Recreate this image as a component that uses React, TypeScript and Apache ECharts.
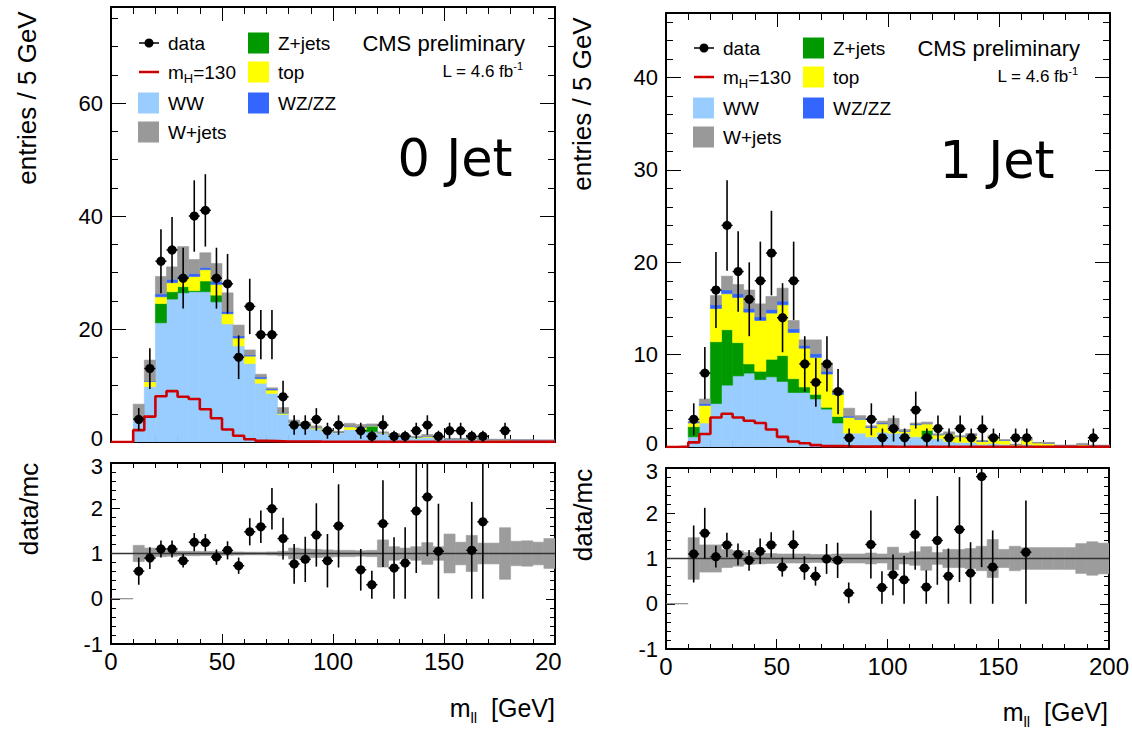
import React, { useEffect, useRef } from 'react';
import * as echarts from 'echarts';

// ---------------- data ----------------
const BIN = 5;
const NBINS = 40;
const X_MAX = 200;

// 0-jet channel (entries per 5 GeV bin, 0..200 GeV)
const ww0 = [0,0,3.9,9.8,21.1,25.3,26.4,26.6,26.6,24.8,20.9,17.0,13.9,10.4,8.6,4.9,3.4,2.9,2.3,1.8,1.6,2.2,2.2,1.8,1.5,1.2,1.0,0.7,0.8,0.65,0.45,0.4,0.5,0.4,0.35,0.3,0.3,0.3,0.25,0.25];
const zjets0 = [0,0,0,0,3.4,1.3,1.1,0.2,1.9,1.2,0,0,0,0,0,0,0,0,0,0,0,0,0,1.0,0,0,0,0,0,0,0,0,0,0,0,0,0,0,0,0];
const top0 = [0,0,0.2,0.9,1.2,1.6,1.5,2.5,2.0,1.9,1.8,1.4,1.3,0.8,0.6,0.2,0.1,0.2,0.2,0.2,0.1,0.5,0.4,0.05,0.1,0.1,0.1,0.15,0.15,0.1,0.05,0.1,0.1,0.05,0.05,0.08,0.03,0.03,0.03,0.03];
const wzzz0 = [0,0,0.1,0.1,0.5,0.6,0.4,0.5,0.4,0.5,0.4,0.4,0.2,0.3,0.2,0.1,0.1,0.05,0.05,0.05,0.05,0.1,0.1,0.05,0.05,0.05,0.05,0.05,0.05,0.05,0.05,0.05,0.05,0.05,0.02,0.02,0.02,0.02,0.02,0.02];
const wjets0 = [0,0,2.5,3.7,3.1,2.2,5.2,2.5,2.6,3.2,3.3,1.9,0.9,0.5,0.2,0.9,0.3,0.3,0.29,0.33,0.15,0.5,0.4,0.3,0.15,0.12,0.11,0.13,0.33,0.15,0.05,0.05,0.28,0.09,0.08,0.1,0.05,0.05,0.05,0.05];
const higgs0 = [0,0,2.1,4.5,8.1,9.0,8.0,7.6,5.8,4.2,2.2,1.1,0.5,0.2,0.15,0.1,0.1,0.08,0.06,0.05,0.05,0.04,0.04,0.03,0.03,0.03,0.02,0.02,0.02,0.02,0.02,0.02,0.02,0.02,0.02,0.02,0.02,0.02,0.02,0.02];
const data0 = [0,0,4,13,32,34,29,40,41,29,28,15,24,19,19,8,3,3,4,2,3,0,2,1,3,1,1,2,3,1,2,2,1,1,0,2,0,0,0,0];
const dataErr0 = [0,0,2,3.61,5.66,5.83,5.39,6.32,6.4,5.39,5.29,3.87,4.9,4.36,4.36,2.83,1.73,1.73,2,1.41,1.73,0,1.41,1,1.73,1,1,1.41,1.73,1,1.41,1.41,1,1,0,1.41,0,0,0,0];
const ratio0 = [null,null,0.61,0.90,1.10,1.10,0.84,1.25,1.24,0.92,1.07,0.73,1.48,1.59,1.99,1.33,0.77,0.87,1.41,0.84,1.61,null,0.64,0.31,1.66,0.68,0.79,1.94,2.25,1.05,null,null,1.07,1.70,null,null,null,null,null,null];
const ratioErr0 = [null,null,0.30,0.24,0.19,0.19,0.15,0.20,0.19,0.17,0.20,0.18,0.30,0.36,0.46,0.46,0.44,0.50,0.70,0.59,0.92,null,0.46,0.31,0.96,0.68,0.79,1.37,1.31,1.05,null,null,1.07,1.70,null,null,null,null,null,null];
const band0 = [0,0,0.18,0.12,0.07,0.06,0.05,0.05,0.045,0.045,0.04,0.035,0.03,0.03,0.035,0.05,0.12,0.1,0.09,0.08,0.07,0.07,0.06,0.07,0.3,0.15,0.12,0.15,0.24,0.15,0.43,0.25,0.4,0.23,0.23,0.57,0.27,0.28,0.25,0.33];

// 1-jet channel
const ww1 = [0,0,1.1,2.6,4.7,6.7,7.7,8.0,7.3,7.6,7.1,5.9,5.9,5.2,4.1,2.6,1.5,1.5,1.1,1.6,1.5,1.5,1.1,0.9,0.9,0.6,0.5,0.5,0.3,0.4,0.3,0.1,0.3,0.15,0.15,0.05,0.05,0.1,0.05,0.05];
const zjets1 = [0,0,1.1,0,6.7,6.0,3.6,1.0,0.9,1.9,2.8,1.5,0.6,0.5,0.2,0.7,0,0,0,0,0,0,0,0.9,0,0,0,0,0,0,0,0,0,0,0,0,0,0,0,0];
const top1 = [0,0,0.4,1.9,3.6,3.9,4.9,5.6,5.5,5.0,5.5,5.0,4.2,4.0,3.6,2.4,1.7,1.5,1.0,0.9,0.3,0.2,1.3,0.7,0.4,0.8,0.6,0.75,0.3,0.6,0.4,0.15,0.45,0.3,0.25,0.1,0.1,0.15,0.1,0.1];
const wzzz1 = [0,0,0.1,0.2,0.4,0.4,0.4,0.4,0.4,0.4,0.4,0.4,0.3,0.4,0.3,0.2,0.15,0.1,0.1,0.1,0.05,0.05,0.1,0.05,0.05,0.05,0.05,0.05,0.05,0.05,0.05,0.02,0.05,0.02,0.02,0.02,0.02,0.02,0.02,0.02];
const wjets1 = [0,0,0.1,0.5,1.0,1.5,1.0,2.0,1.4,1.4,1.4,0.9,0.6,1.5,0.9,0.3,0.85,0.3,0.1,0.2,1.25,0.15,0.1,0.15,0.08,0.19,0.07,0.17,0.06,0.18,0.05,0.03,0.08,0.03,0.08,0.03,0.03,0.13,0.03,0.03];
const higgs1 = [0,0.05,0.5,1.4,3.2,3.6,3.2,2.85,2.6,1.9,1.1,0.6,0.4,0.2,0.1,0.1,0.05,0.05,0.04,0.04,0.03,0.03,0.03,0.02,0.02,0.02,0.02,0.02,0.02,0.02,0.02,0.02,0.02,0.02,0.02,0.02,0.02,0.02,0.02,0.02];
const data1 = [0,0,3,8,17,24,19,16,18,21,14,18,9,7,9,6,1,0,3,1,2,1,4,1,2,1,2,1,2,1,0,1,1,0,0,0,0,0,1,0];
const dataErr1 = [0,0,1.73,2.83,4.12,4.9,4.36,4,4.24,4.58,3.74,4.24,3,2.65,3,2.45,1,0,1.73,1,1.41,1,2,1,1.41,1,1.41,1,1.41,1,0,1,1,0,0,0,0,0,1,0];
const ratio1 = [null,null,1.10,1.56,1.04,1.30,1.09,0.96,1.16,1.30,0.81,1.31,0.79,0.61,0.99,0.96,0.24,null,1.31,0.36,0.64,0.53,1.53,0.37,1.40,0.61,1.64,0.68,2.81,0.81,null,null,1.14,null,null,null,null,null,null,null];
const ratioErr1 = [null,null,0.63,0.56,0.24,0.27,0.24,0.23,0.28,0.28,0.21,0.31,0.26,0.21,0.33,0.39,0.23,null,0.75,0.36,0.45,0.53,0.78,0.37,0.98,0.61,1.16,0.68,2.0,0.81,null,null,1.14,null,null,null,null,null,null,null];
const band1 = [0,0,0.46,0.3,0.3,0.2,0.17,0.13,0.12,0.11,0.1,0.1,0.1,0.09,0.09,0.1,0.1,0.1,0.12,0.1,0.25,0.12,0.15,0.26,0.13,0.2,0.2,0.22,0.27,0.42,0.2,0.27,0.24,0.24,0.24,0.24,0.24,0.33,0.37,0.34];

const xTicks = { major: 50, minorSplit: 5 };
const mainY0 = { max: 77, major: 20, minor: 5 };
const mainY1 = { max: 47, major: 10, minor: 2 };
const ratioY = { min: -1, max: 3, major: 1, minorSplit: 5 };

const COMPONENTS = [
  { name: 'WW', color: '#99ccff' },
  { name: 'Z+jets', color: '#009900' },
  { name: 'top', color: '#ffff00' },
  { name: 'WZ/ZZ', color: '#3366ff' },
  { name: 'W+jets', color: '#999999' },
];
const HIGGS_COLOR = '#cc0000';
const FONT = '"Liberation Sans", Arial, Helvetica, sans-serif';

// ---------------- helpers ----------------
function rectSeries(name: string, color: string, xi: number, yi: number, rects: number[][], z = 2) {
  return {
    type: 'custom',
    name,
    xAxisIndex: xi,
    yAxisIndex: yi,
    clip: true,
    silent: true,
    z,
    data: rects,
    encode: { x: [0, 1], y: [2, 3] },
    renderItem: (_p: any, api: any) => {
      const a = api.coord([api.value(0), api.value(3)]);
      const b = api.coord([api.value(1), api.value(2)]);
      return {
        type: 'rect',
        shape: { x: a[0], y: a[1], width: b[0] - a[0], height: b[1] - a[1] },
        style: { fill: color, stroke: color, lineWidth: 0.6 },
      };
    },
  };
}

function pointSeries(name: string, xi: number, yi: number, pts: number[][], r: number) {
  return {
    type: 'custom',
    name,
    xAxisIndex: xi,
    yAxisIndex: yi,
    clip: true,
    silent: true,
    z: 5,
    data: pts,
    encode: { x: 0, y: 1 },
    renderItem: (_p: any, api: any) => {
      const x = api.value(0), y = api.value(1), e = api.value(2);
      const c = api.coord([x, y]);
      const t = api.coord([x, y + e]);
      const b = api.coord([x, y - e]);
      const l = api.coord([x - BIN / 2, y]);
      const rr = api.coord([x + BIN / 2, y]);
      return {
        type: 'group',
        children: [
          { type: 'line', shape: { x1: c[0], y1: t[1], x2: c[0], y2: b[1] }, style: { stroke: '#000', lineWidth: 1.6 } },
          { type: 'line', shape: { x1: l[0], y1: c[1], x2: rr[0], y2: c[1] }, style: { stroke: '#000', lineWidth: 1.4 } },
          { type: 'circle', shape: { cx: c[0], cy: c[1], r }, style: { fill: '#000' } },
        ],
      };
    },
  };
}

function buildOption() {
  const grids: any[] = [
    { left: 111, top: 7, width: 444, height: 435 },
    { left: 111, top: 463, width: 444, height: 181 },
    { left: 666, top: 13, width: 444, height: 434 },
    { left: 666, top: 468, width: 444, height: 181 },
  ];
  const xAxes: any[] = [];
  const yAxes: any[] = [];
  const series: any[] = [];
  const graphic: any[] = [];

  const lineStyle = { color: '#000', width: 2 };
  const tickStyle = { color: '#000', width: 1 };
  const xLabelStyle = { fontSize: 24, fontFamily: FONT, color: '#000', lineHeight: 17 };
  const yLabelStyle = { fontSize: 22, fontFamily: FONT, color: '#000', lineHeight: 16 };
  const yRich = {
    lo: { fontSize: 22, fontFamily: FONT, color: '#000', lineHeight: 16, padding: [0, 0, 7, 0] },
    hi: { fontSize: 22, fontFamily: FONT, color: '#000', lineHeight: 16, padding: [7, 0, 0, 0] },
  };

  function addX(g: number, showLabels: boolean, majorLen: number, minorLen: number) {
    const idx = xAxes.length;
    for (const pos of ['bottom', 'top']) {
      xAxes.push({
        gridIndex: g, type: 'value', position: pos, min: 0, max: X_MAX, interval: xTicks.major,
        axisLine: { show: true, onZero: false, lineStyle },
        axisTick: { show: true, inside: true, length: majorLen, lineStyle: tickStyle },
        minorTick: { show: true, splitNumber: xTicks.minorSplit, length: minorLen, lineStyle: tickStyle },
        axisLabel: { show: showLabels && pos === 'bottom', margin: 9, ...xLabelStyle },
        splitLine: { show: false }, minorSplitLine: { show: false },
      });
    }
    return idx;
  }
  function addMainY(g: number, cfg: { max: number; major: number; minor: number }) {
    const idx = yAxes.length;
    for (const pos of ['left', 'right']) {
      yAxes.push({
        gridIndex: g, type: 'value', position: pos, min: 0, max: cfg.max, interval: cfg.major,
        axisLine: { show: true, onZero: false, lineStyle },
        axisTick: { show: true, inside: true, length: 15, lineStyle: tickStyle },
        axisLabel: {
          show: pos === 'left', showMaxLabel: false, margin: 8, ...yLabelStyle,
          formatter: (v: number) => (v === 0 ? '{lo|0}' : String(v)), rich: yRich,
        },
        splitLine: { show: false },
      });
      yAxes.push({
        gridIndex: g, type: 'value', position: pos, min: 0, max: cfg.max, interval: cfg.minor,
        axisLine: { show: false, onZero: false },
        axisTick: { show: true, inside: true, length: 7, lineStyle: tickStyle },
        axisLabel: { show: false },
        splitLine: { show: false },
      });
    }
    return idx;
  }
  function addRatioY(g: number) {
    const idx = yAxes.length;
    for (const pos of ['left', 'right']) {
      yAxes.push({
        gridIndex: g, type: 'value', position: pos, min: ratioY.min, max: ratioY.max, interval: ratioY.major,
        axisLine: { show: true, onZero: false, lineStyle },
        axisTick: { show: true, inside: true, length: 9, lineStyle: tickStyle },
        minorTick: { show: true, splitNumber: ratioY.minorSplit, length: 5, lineStyle: tickStyle },
        axisLabel: {
          show: pos === 'left', margin: 8, ...yLabelStyle,
          formatter: (v: number) => (v === ratioY.max ? '{hi|' + v + '}' : String(v)), rich: yRich,
        },
        splitLine: { show: false }, minorSplitLine: { show: false },
      });
    }
    return idx;
  }

  const panels = [
    { comps: [ww0, zjets0, top0, wzzz0, wjets0], higgs: higgs0, data: data0, dataErr: dataErr0, ratio: ratio0, ratioErr: ratioErr0, band: band0, yCfg: mainY0, gMain: 0, gRatio: 1 },
    { comps: [ww1, zjets1, top1, wzzz1, wjets1], higgs: higgs1, data: data1, dataErr: dataErr1, ratio: ratio1, ratioErr: ratioErr1, band: band1, yCfg: mainY1, gMain: 2, gRatio: 3 },
  ];

  panels.forEach((p) => {
    const xm = addX(p.gMain, false, 14, 7);
    const ym = addMainY(p.gMain, p.yCfg);
    const xr = addX(p.gRatio, true, 10, 5);
    const yr = addRatioY(p.gRatio);

    // stacked backgrounds
    const rects: number[][][] = p.comps.map(() => []);
    for (let k = 0; k < NBINS; k++) {
      let base = 0;
      p.comps.forEach((c, i) => {
        const v = c[k];
        if (v > 0) rects[i].push([k * BIN, (k + 1) * BIN, base, base + v]);
        base += v;
      });
    }
    COMPONENTS.forEach((c, i) => series.push(rectSeries(c.name, c.color, xm, ym, rects[i])));

    // signal histogram outline
    const hline: number[][] = p.higgs.map((v, k) => [k * BIN, v]);
    hline.push([X_MAX, p.higgs[NBINS - 1]]);
    series.push({
      type: 'line', name: 'mH=130', xAxisIndex: xm, yAxisIndex: ym, step: 'end', data: hline,
      symbol: 'none', clip: true, silent: true, z: 4,
      lineStyle: { color: HIGGS_COLOR, width: 2.6 },
    });

    // data points
    const pts: number[][] = [];
    p.data.forEach((v, k) => { if (v > 0) pts.push([(k + 0.5) * BIN, v, p.dataErr[k]]); });
    series.push(pointSeries('data', xm, ym, pts, 4.6));

    // ratio band
    const bandRects: number[][] = [];
    p.band.forEach((e, k) => { if (e > 0) bandRects.push([k * BIN, (k + 1) * BIN, 1 - e, 1 + e]); });
    series.push(rectSeries('MC uncertainty', '#9c9c9c', xr, yr, bandRects));
    series.push({
      type: 'line', xAxisIndex: xr, yAxisIndex: yr, data: [[0, 1], [X_MAX, 1]], symbol: 'none', silent: true, z: 3,
      lineStyle: { color: '#333', width: 1.5 },
    });
    series.push({
      type: 'line', xAxisIndex: xr, yAxisIndex: yr, data: [[0, 0], [2 * BIN, 0]], symbol: 'none', silent: true, z: 3,
      lineStyle: { color: '#777', width: 1 },
    });
    const rpts: number[][] = [];
    p.ratio.forEach((v, k) => { if (v !== null) rpts.push([(k + 0.5) * BIN, v as number, p.ratioErr[k] as number]); });
    series.push(pointSeries('data/mc', xr, yr, rpts, 4.6));
  });

  // ---- texts & legends ----
  const txt = (x: number, y: number, text: string, size: number, align = 'left', extra: any = {}) => ({
    type: 'text', x, y, z: 50,
    style: {
      text, fontSize: size, fontFamily: FONT, fill: '#000',
      align, verticalAlign: 'middle', textAlign: align, textVerticalAlign: 'middle', ...extra,
    },
  });

  const legend = (ox: number, oy: number, jetLabel: string, jx: number, jy: number) => {
    const L = 19;
    const items: any[] = [];
    items.push({ type: 'line', z: 50, shape: { x1: ox + 139, y1: oy + 43, x2: ox + 159, y2: oy + 43 }, style: { stroke: '#000', lineWidth: 1.5 } });
    items.push({ type: 'circle', z: 50, shape: { cx: ox + 149, cy: oy + 43, r: 4.5 }, style: { fill: '#000' } });
    items.push(txt(ox + 168, oy + 43, 'data', L));
    items.push({ type: 'line', z: 50, shape: { x1: ox + 139, y1: oy + 72, x2: ox + 159, y2: oy + 72 }, style: { stroke: HIGGS_COLOR, lineWidth: 2.5 } });
    items.push({
      type: 'text', x: ox + 168, y: oy + 72, z: 50,
      style: {
        text: '{a|m}{b|H}{a|=130}', fill: '#000', align: 'left', verticalAlign: 'middle', textAlign: 'left', textVerticalAlign: 'middle',
        rich: {
          a: { fontSize: L, fontFamily: FONT, lineHeight: 26, fill: '#000' },
          b: { fontSize: 13, fontFamily: FONT, lineHeight: 12, verticalAlign: 'bottom', fill: '#000' },
        },
      },
    });
    const boxes = [
      { c: COMPONENTS[0], x: 138, y: 103 },
      { c: COMPONENTS[4], x: 138, y: 132 },
      { c: COMPONENTS[1], x: 248, y: 43 },
      { c: COMPONENTS[2], x: 248, y: 72 },
      { c: COMPONENTS[3], x: 248, y: 103 },
    ];
    boxes.forEach((b) => {
      items.push({ type: 'rect', z: 50, shape: { x: ox + b.x, y: oy + b.y - 10.5, width: 21, height: 21 }, style: { fill: b.c.color } });
      items.push(txt(ox + b.x + 30, oy + b.y, b.c.name, L));
    });
    items.push(txt(ox + 525, oy + 43, 'CMS preliminary', 22, 'right'));
    items.push({
      type: 'text', x: ox + 523, y: oy + 71, z: 50,
      style: {
        text: '{a|L = 4.6 fb}{b|-1}', fill: '#000', align: 'right', verticalAlign: 'middle', textAlign: 'right', textVerticalAlign: 'middle',
        rich: {
          a: { fontSize: 17, fontFamily: FONT, lineHeight: 22, fill: '#000' },
          b: { fontSize: 11, fontFamily: FONT, lineHeight: 11, verticalAlign: 'top', fill: '#000' },
        },
      },
    });
    items.push(txt(jx, jy, jetLabel, 51, 'center', { fontFamily: '"DejaVu Sans", Verdana, sans-serif' }));
    return items;
  };

  graphic.push(...legend(0, 0, '0 Jet', 455, 158));
  graphic.push(...legend(555, 5, '1 Jet', 997, 160));

  // axis titles
  const vtitle = (x: number, y: number, text: string) => ({
    type: 'text', x, y, rotation: Math.PI / 2, z: 50,
    style: { text, fontSize: 26, fontFamily: FONT, fill: '#000', align: 'center', verticalAlign: 'middle', textAlign: 'center', textVerticalAlign: 'middle' },
  });
  graphic.push(vtitle(27, 98, 'entries / 5 GeV'));
  graphic.push(vtitle(582, 104, 'entries / 5 GeV'));
  graphic.push(vtitle(29, 509, 'data/mc'));
  graphic.push(vtitle(583, 515, 'data/mc'));
  const mll = (x: number, y: number) => ({
    type: 'text', x, y, z: 50,
    style: {
      text: '{a|m}{b|ll}{a|  [GeV]}', fill: '#000', align: 'right', verticalAlign: 'middle', textAlign: 'right', textVerticalAlign: 'middle',
      rich: {
        a: { fontSize: 25, fontFamily: FONT, lineHeight: 34, fill: '#000' },
        b: { fontSize: 15, fontFamily: FONT, lineHeight: 14, verticalAlign: 'bottom', fill: '#000' },
      },
    },
  });
  graphic.push(mll(555, 708));
  graphic.push(mll(1108, 712));
  // right pad overlaps the last tick label of the left pad
  graphic.push({ type: 'rect', z: 100, shape: { x: 561, y: 650, width: 68, height: 30 }, style: { fill: '#fff' } });

  return {
    animation: false,
    backgroundColor: '#fff',
    grid: grids,
    xAxis: xAxes,
    yAxis: yAxes,
    series,
    graphic,
  };
}

export default function App() {
  const ref = useRef<HTMLDivElement>(null);
  useEffect(() => {
    if (!ref.current) return;
    const chart = echarts.init(ref.current, undefined, { renderer: 'svg' });
    chart.setOption(buildOption() as any);
    return () => chart.dispose();
  }, []);
  return (
    <div
      ref={ref}
      style={{ position: 'absolute', left: 0, top: 0, width: 1132, height: 731, background: '#fff' }}
    />
  );
}
